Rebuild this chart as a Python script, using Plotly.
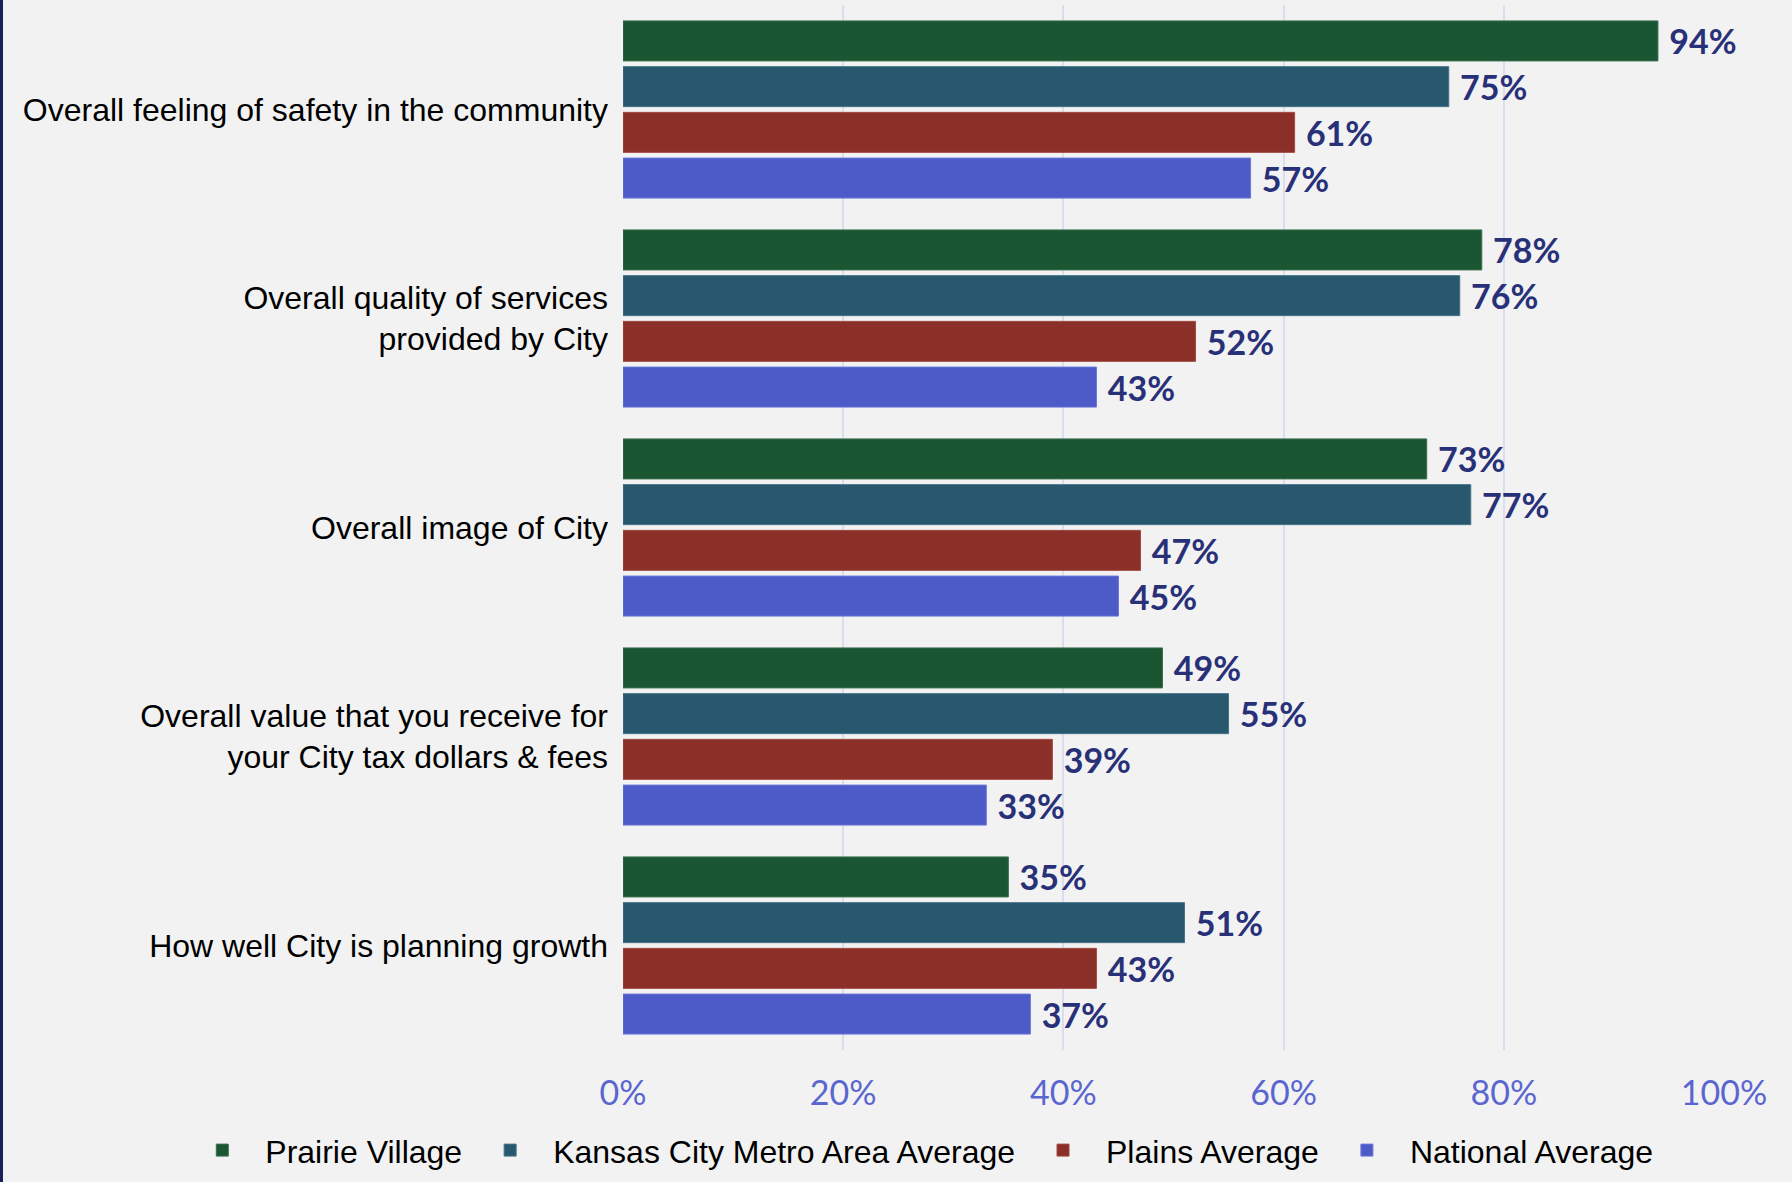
import plotly.graph_objects as go

categories = [
    "Overall feeling of safety in the community",
    "Overall quality of services<br>provided by City",
    "Overall image of City",
    "Overall value that you receive for<br>your City tax dollars & fees",
    "How well City is planning growth",
]
series_names = [
    "Prairie Village",
    "Kansas City Metro Area Average",
    "Plains Average",
    "National Average",
]
prairie_village = [94, 78, 73, 49, 35]
kc_metro = [75, 76, 77, 55, 51]
plains = [61, 52, 47, 39, 43]
national = [57, 43, 45, 33, 37]
tick_vals = [0, 20, 40, 60, 80, 100]
tick_text = ["0%", "20%", "40%", "60%", "80%", "100%"]

colors = ["#1b5632", "#28586e", "#8a3029", "#4d5bc8"]
edge_colors = ["#3a7050", "#46728a", "#a04a42", "#6a76d6"]

W, H = 1792, 1182
ML, MR, MT, MB = 623, 68, 5, 132

fig = go.Figure()
for name, vals, col, edge in zip(series_names,
                                 [prairie_village, kc_metro, plains, national],
                                 colors, edge_colors):
    fig.add_trace(go.Bar(
        y=categories,
        x=vals,
        name=name,
        orientation="h",
        marker=dict(color=col, line=dict(color=edge, width=1)),
        texttemplate="\u00a0%{x}%",
        textposition="outside",
        constraintext="none",
        cliponaxis=False,
        textfont=dict(family="Lato", size=34, color="#283078", weight="bold"),
    ))

fig.update_layout(
    width=W,
    height=H,
    barmode="group",
    bargap=0.125,
    bargroupgap=0.125,
    paper_bgcolor="#f2f2f2",
    plot_bgcolor="#f2f2f2",
    margin=dict(l=ML, r=MR, t=MT, b=MB, autoexpand=False),
    xaxis=dict(
        range=[0, 100],
        tickvals=tick_vals,
        ticktext=tick_text,
        showgrid=True,
        gridcolor="#dadcf0",
        gridwidth=2,
        zeroline=False,
        showline=False,
        tickfont=dict(family="Lato", size=34, color="#5a66d0"),
        ticklabelstandoff=20,
    ),
    yaxis=dict(
        autorange="reversed",
        showgrid=False,
        zeroline=False,
        tickfont=dict(family="Liberation Sans", size=32, color="#000000"),
        ticklabelstandoff=14,
    ),
    showlegend=True,
    legend=dict(
        orientation="h",
        x=-0.403,
        xanchor="left",
        y=-0.096,
        yanchor="middle",
        font=dict(family="Liberation Sans", size=32, color="#000000"),
        itemwidth=76,
        bgcolor="rgba(0,0,0,0)",
    ),
    shapes=[dict(
        type="line", xref="paper", yref="paper",
        x0=-(ML - 1.5) / (W - ML - MR), x1=-(ML - 1.5) / (W - ML - MR),
        y0=-MB / (H - MT - MB), y1=1 + MT / (H - MT - MB),
        line=dict(color="#1c2058", width=3),
    )],
)

fig.write_html("out.html", config={"displayModeBar": False},
               post_script="document.body.style.margin='0';")
